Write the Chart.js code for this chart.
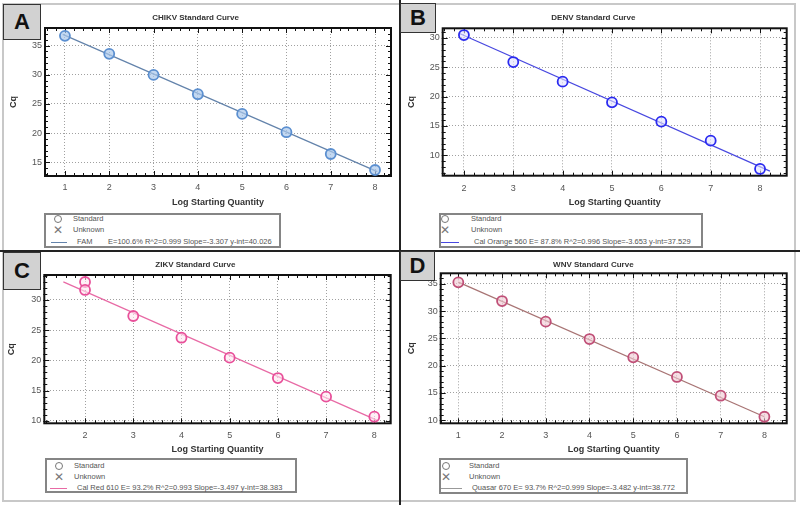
<!doctype html>
<html lang="en">
<head>
<meta charset="utf-8">
<title>Standard Curves - CHIKV / DENV / ZIKV / WNV</title>
<script src="https://cdn.jsdelivr.net/npm/chart.js"></script>
<style>
  body { margin:0; background:#fff; font-family:"Liberation Sans", Arial, sans-serif; }
  #wrap { position:relative; width:800px; height:505px; overflow:hidden; background:#fff; }
  .frame { position:absolute; left:2px; top:3px; width:794px; height:499px; border:2px solid #c8c8c8; box-sizing:border-box; }
  .vline { position:absolute; left:399px; top:0; width:2px; height:505px; background:#222; }
  .hline { position:absolute; left:0; top:250px; width:800px; height:2px; background:#222; }
  canvas { position:absolute; }
  .tag { position:absolute; background:#d2d2d2; border:1.5px solid #333; font-weight:bold; font-size:22px; color:#111;
         display:flex; align-items:center; justify-content:center; box-sizing:border-box; }
  .legend { position:absolute; border:2px solid #858585; box-sizing:border-box; font-size:7.5px; color:#555; background:#fff; }
  .legend span { position:absolute; white-space:nowrap; line-height:10px; height:10px; }
  .legend .circ { width:8px; height:8px; border:1.3px solid #777; border-radius:50%; box-sizing:border-box; }
  .legend .cross { font-size:12px; color:#777; }
  .legend .ln { height:0; border-top:1px solid; }
</style>
</head>
<body>
<div id="wrap">
  <div class="frame"></div>
  <canvas id="cA" width="400" height="251" style="left:0;top:0"></canvas>
  <canvas id="cB" width="400" height="251" style="left:400px;top:0"></canvas>
  <canvas id="cC" width="400" height="254" style="left:0;top:251px"></canvas>
  <canvas id="cD" width="400" height="254" style="left:400px;top:251px"></canvas>
  <div class="vline"></div>
  <div class="hline"></div>
  <div class="tag" style="left:3px;top:4px;width:38px;height:36px">A</div>
  <div class="tag" style="left:400px;top:3px;width:36px;height:30px">B</div>
  <div class="tag" style="left:3px;top:252px;width:38px;height:38px">C</div>
  <div class="tag" style="left:400px;top:251px;width:35px;height:30px">D</div>
  <div class="legend" id="lA" style="left:44px;top:213px;width:237px;height:35px"></div>
  <div class="legend" id="lB" style="left:439px;top:213px;width:264px;height:35px"></div>
  <div class="legend" id="lC" style="left:45px;top:458px;width:252px;height:35px"></div>
  <div class="legend" id="lD" style="left:439px;top:458px;width:249px;height:36px"></div>
</div>
<script>
  // ---- data ----
  var titles = ['CHIKV Standard Curve', 'DENV Standard Curve', 'ZIKV Standard Curve', 'WNV Standard Curve'];
  var xTitle = 'Log Starting Quantity';
  var yTitle = 'Cq';
  var dyeNames = ['FAM', 'Cal Orange 560', 'Cal Red 610', 'Quasar 670'];
  var fitStats = [
    'E=100.6% R^2=0.999 Slope=-3.307 y-int=40.026',
    'E= 87.8% R^2=0.996 Slope=-3.653 y-int=37.529',
    'E= 93.2% R^2=0.993 Slope=-3.497 y-int=38.383',
    'E= 93.7% R^2=0.999 Slope=-3.482 y-int=38.772'
  ];

  var chikvLogQ = [1, 2, 3, 4, 5, 6, 7, 8];
  var chikvCq   = [36.66, 33.58, 29.97, 26.66, 23.28, 20.15, 16.42, 13.68];
  var chikvFitLogQ = [0.95, 8.05];
  var chikvFitCq   = [36.9, 13.4];

  var denvLogQ = [2, 3, 4, 5, 6, 7, 8];
  var denvCq   = [30.5, 25.9, 22.55, 19.03, 15.73, 12.49, 7.67];
  var denvFitLogQ = [1.9, 8.2];
  var denvFitCq   = [30.8, 7.3];

  var zikvLogQ = [2, 2, 3, 4, 5, 6, 7, 8];
  var zikvCq   = [32.98, 31.66, 27.35, 23.75, 20.44, 17.07, 13.98, 10.66];
  var zikvFitLogQ = [1.55, 8.05];
  var zikvFitCq   = [33.0, 10.1];

  var wnvLogQ = [1, 2, 3, 4, 5, 6, 7, 8];
  var wnvCq   = [35.26, 31.83, 28.04, 24.86, 21.5, 17.9, 14.46, 10.6];
  var wnvFitLogQ = [1, 8];
  var wnvFitCq   = [35.3, 10.6];

  var xStep = 1, yStep = 5;

  var FONT = '"Liberation Sans", Arial, sans-serif';

  // border with minor ticks, like the instrument software plots
  var framePlugin = {
    id: 'frame',
    beforeDatasetsDraw: function (chart) {
      var ctx = chart.ctx, a = chart.chartArea, x = chart.scales.x, y = chart.scales.y;
      ctx.save();
      ctx.strokeStyle = '#111';
      ctx.lineWidth = 1;
      ctx.beginPath();
      for (var k = Math.ceil(x.min * 5); k <= Math.floor(x.max * 5); k++) {
        var px = Math.round(x.getPixelForValue(k / 5)) + 0.5;
        var len = (k % 5 === 0) ? 5 : 3;
        ctx.moveTo(px, a.bottom); ctx.lineTo(px, a.bottom - len);
        ctx.moveTo(px, a.top); ctx.lineTo(px, a.top + len);
      }
      for (var j = Math.ceil(y.min); j <= Math.floor(y.max); j++) {
        var py = Math.round(y.getPixelForValue(j)) + 0.5;
        var l2 = (j % 5 === 0) ? 5 : 3;
        ctx.moveTo(a.left - 1, py); ctx.lineTo(a.left + l2, py);
        ctx.moveTo(a.right, py); ctx.lineTo(a.right - l2, py);
      }
      ctx.stroke();
      ctx.lineWidth = 2;
      ctx.strokeRect(a.left, a.top, a.right - a.left, a.bottom - a.top);
      ctx.restore();
    }
  };

  function pts(xs, ys) {
    return xs.map(function (v, i) { return { x: v, y: ys[i] }; });
  }

  function makeChart(id, p) {
    return new Chart(document.getElementById(id), {
      type: 'scatter',
      data: {
        datasets: [{
          label: 'Standard',
          data: pts(p.xs, p.ys),
          pointRadius: 5,
          pointBorderWidth: 1.8,
          pointBorderColor: p.ptColor,
          pointBackgroundColor: p.ptFill,
          order: 0
        }, {
          type: 'line',
          label: p.dye,
          data: pts(p.fx, p.fy),
          borderColor: p.lineColor,
          borderWidth: 1.2,
          pointRadius: 0,
          fill: false,
          order: 1
        }]
      },
      options: {
        responsive: false,
        animation: false,
        layout: { padding: { left: 0, right: p.w - p.r, top: 0, bottom: p.h - p.xBottom } },
        plugins: {
          legend: { display: false },
          tooltip: { enabled: false },
          title: {
            display: true, text: p.title, color: '#333',
            font: { family: FONT, size: 8, weight: 'bold' },
            padding: { top: p.titleY - 4.8, bottom: p.t - p.titleY - 4.8 }
          }
        },
        scales: {
          x: {
            type: 'linear', min: p.xMin, max: p.xMax,
            ticks: { stepSize: xStep, includeBounds: false, padding: p.tickY - p.b - 4.5, color: '#555', font: { family: FONT, size: 9 } },
            grid: { color: '#a0a0a0', drawTicks: false },
            border: { display: false, dash: [1, 2] },
            title: { display: true, text: xTitle, color: '#333', font: { family: FONT, size: 9, weight: 'bold' }, padding: { top: 0, bottom: 0 } },
            afterFit: function (s) { s.height = p.xBottom - p.b; }
          },
          y: {
            type: 'linear', min: p.yMin, max: p.yMax,
            ticks: { stepSize: yStep, includeBounds: false, padding: 3, color: '#555', font: { family: FONT, size: 9 } },
            grid: { color: '#a0a0a0', drawTicks: false },
            border: { display: false, dash: [1, 2] },
            title: { display: true, text: yTitle, color: '#333', font: { family: FONT, size: 9, weight: 'bold' }, padding: { top: p.cqX - 5.4, bottom: 0 } },
            afterFit: function (s) { s.width = p.l; }
          }
        }
      },
      plugins: [framePlugin]
    });
  }

  makeChart('cA', { w: 400, h: 251, l: 45, r: 391, t: 28, b: 176, xBottom: 208.4, titleY: 17.3, tickY: 187, cqX: 14,
    xMin: 0.55, xMax: 8.36, yMin: 12.65, yMax: 38.0, title: titles[0], dye: dyeNames[0],
    xs: chikvLogQ, ys: chikvCq, fx: chikvFitLogQ, fy: chikvFitCq,
    ptColor: '#5b8fd0', ptFill: 'rgba(170,200,235,0.7)', lineColor: '#6383ab' });

  makeChart('cB', { w: 400, h: 251, l: 42.7, r: 386.7, t: 28.3, b: 175.7, xBottom: 208.4, titleY: 17.3, tickY: 188, cqX: 11.7,
    xMin: 1.57, xMax: 8.54, yMin: 6.52, yMax: 31.65, title: titles[1], dye: dyeNames[1],
    xs: denvLogQ, ys: denvCq, fx: denvFitLogQ, fy: denvFitCq,
    ptColor: '#2a2af0', ptFill: 'rgba(225,225,255,0.6)', lineColor: '#4848e0' });

  makeChart('cC', { w: 400, h: 254, l: 44.3, r: 390.7, t: 24, b: 172.3, xBottom: 204.4, titleY: 14, tickY: 184, cqX: 11.7,
    xMin: 1.155, xMax: 8.34, yMin: 9.57, yMax: 34.14, title: titles[2], dye: dyeNames[2],
    xs: zikvLogQ, ys: zikvCq, fx: zikvFitLogQ, fy: zikvFitCq,
    ptColor: '#e8509a', ptFill: 'rgba(255,230,240,0.6)', lineColor: '#e86aa5' });

  makeChart('cD', { w: 400, h: 254, l: 40.7, r: 386.7, t: 22.3, b: 172.3, xBottom: 204.4, titleY: 14, tickY: 184, cqX: 11.7,
    xMin: 0.597, xMax: 8.51, yMin: 9.4, yMax: 36.92, title: titles[3], dye: dyeNames[3],
    xs: wnvLogQ, ys: wnvCq, fx: wnvFitLogQ, fy: wnvFitCq,
    ptColor: '#c05078', ptFill: 'rgba(240,200,210,0.6)', lineColor: '#a87474' });

  // legend boxes under each plot
  function makeLegend(id, i, g) {
    var box = document.getElementById(id);
    var html = '';
    html += '<span class="circ" style="left:' + (g.sym - 4) + 'px;top:' + (g.r1 - 4) + 'px"></span>';
    html += '<span style="left:' + g.txt + 'px;top:' + (g.r1 - 5) + 'px">Standard</span>';
    html += '<span class="cross" style="left:' + (g.sym - 5) + 'px;top:' + (g.r2 - 5) + 'px">&#x2715;</span>';
    html += '<span style="left:' + g.txt + 'px;top:' + (g.r2 - 5) + 'px">Unknown</span>';
    html += '<span class="ln" style="left:' + g.l0 + 'px;width:' + (g.l1 - g.l0) + 'px;top:' + g.r3 + 'px;border-color:' + g.color + '"></span>';
    if (g.stats) {
      html += '<span style="left:' + g.dye + 'px;top:' + (g.r3 - 5) + 'px">' + dyeNames[i] + '</span>';
      html += '<span style="left:' + g.stats + 'px;top:' + (g.r3 - 5) + 'px">' + fitStats[i] + '</span>';
    } else {
      html += '<span style="left:' + g.dye + 'px;top:' + (g.r3 - 5) + 'px">' + dyeNames[i] + ' ' + fitStats[i] + '</span>';
    }
    box.innerHTML = html;
  }
  makeLegend('lA', 0, { sym: 12, txt: 27, r1: 4, r2: 15, r3: 27, l0: 5, l1: 21, dye: 31, stats: 62, color: '#6383ab' });
  makeLegend('lB', 1, { sym: 4, txt: 30, r1: 4, r2: 15, r3: 27, l0: 0, l1: 18, dye: 33, color: '#4848e0' });
  makeLegend('lC', 2, { sym: 12, txt: 27, r1: 6, r2: 17, r3: 28, l0: 3, l1: 20, dye: 30, color: '#e86aa5' });
  makeLegend('lD', 3, { sym: 5, txt: 28, r1: 6, r2: 17, r3: 28, l0: 0, l1: 21, dye: 31, color: '#999' });
</script>
</body>
</html>
